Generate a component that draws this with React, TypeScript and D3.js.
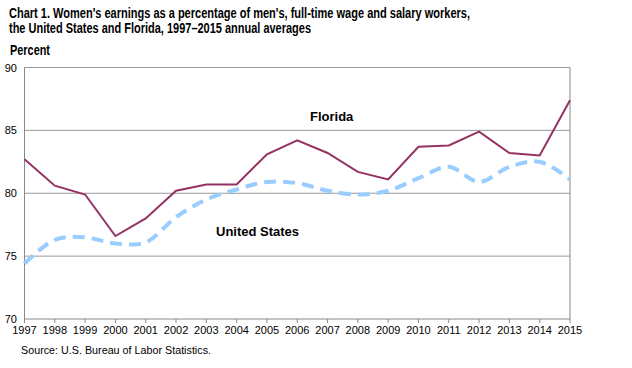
import React from "react";
import * as d3 from "d3";

const years = [1997,1998,1999,2000,2001,2002,2003,2004,2005,2006,2007,2008,2009,2010,2011,2012,2013,2014,2015];
const florida = [82.7,80.6,79.9,76.6,78.0,80.2,80.7,80.7,83.1,84.2,83.2,81.7,81.1,83.7,83.8,84.9,83.2,83.0,87.4];
const unitedStates = [74.4,76.3,76.5,76.0,76.1,78.1,79.5,80.3,80.9,80.8,80.2,79.9,80.2,81.2,82.1,80.9,82.1,82.5,81.1];
const yTicks = [70,75,80,85,90];
const titleLines = [
  "Chart 1. Women's earnings as a percentage of men's, full-time wage and salary workers,",
  "the United States and Florida, 1997\u20132015  annual averages",
];

const W = 632, H = 368;
const left = 24.5, right = 570, top = 67.5, bottom = 319;
const font = "'Liberation Sans Narrow', 'Arial Narrow', 'Liberation Sans', Arial, sans-serif";
const font2 = "'Liberation Sans', Arial, sans-serif";

export default function App() {
  const x = d3.scaleLinear().domain([1997, 2015]).range([left, right]);
  const y = d3.scaleLinear().domain([70, 90]).range([bottom, top]);
  const flLine = d3.line<number>().x((_, i) => x(years[i])).y(d => y(d));
  const usLine = d3.line<number>().x((_, i) => x(years[i])).y(d => y(d)).curve(d3.curveCatmullRom.alpha(0.5));
  return (
    <svg width={W} height={H} style={{ position: "absolute", left: 0, top: 0, background: "#fff" }}>
      <text x={9} y={18} fontFamily={font} fontWeight="bold" fontSize={14} fill="#000" textLength={461} lengthAdjust="spacingAndGlyphs">{titleLines[0]}</text>
      <text x={9} y={33} fontFamily={font} fontWeight="bold" fontSize={14} fill="#000" textLength={302} lengthAdjust="spacingAndGlyphs">{titleLines[1]}</text>
      <text x={10} y={55} fontFamily={font} fontWeight="bold" fontSize={14} fill="#000" textLength={40} lengthAdjust="spacingAndGlyphs">Percent</text>
      {yTicks.map(t => (
        <g key={t}>
          {t > 70 && <line x1={left} x2={right} y1={y(t)} y2={y(t)} stroke="#999" strokeWidth={1} />}
          <text x={17} y={y(t) + 4} textAnchor="end" fontFamily={font2} fontSize={11} fill="#000">{t}</text>
        </g>
      ))}
      <line x1={left} x2={left} y1={top} y2={bottom} stroke="#888" strokeWidth={1} />
      <line x1={right} x2={right} y1={top} y2={bottom} stroke="#888" strokeWidth={1} />
      <line x1={left} x2={right} y1={bottom} y2={bottom} stroke="#888" strokeWidth={1} />
      {years.map(yr => (
        <g key={yr}>
          <line x1={x(yr)} x2={x(yr)} y1={bottom} y2={bottom + 4} stroke="#888" strokeWidth={1} />
          <text x={x(yr)} y={bottom + 15} textAnchor="middle" fontFamily={font2} fontSize={11} fill="#000">{yr}</text>
        </g>
      ))}
      <path d={usLine(unitedStates) || ""} fill="none" stroke="#99CCFF" strokeWidth={4} strokeDasharray="12,7" />
      <path d={flLine(florida) || ""} fill="none" stroke="#953163" strokeWidth={2} />
      <text x={310} y={121} fontFamily={font2} fontWeight="bold" fontSize={13} fill="#000">Florida</text>
      <text x={216} y={236} fontFamily={font2} fontWeight="bold" fontSize={13} fill="#000">United States</text>
      <text x={21} y={354} fontFamily={font2} fontSize={11} fill="#000" textLength={190} lengthAdjust="spacingAndGlyphs">Source: U.S. Bureau of Labor Statistics.</text>
    </svg>
  );
}
